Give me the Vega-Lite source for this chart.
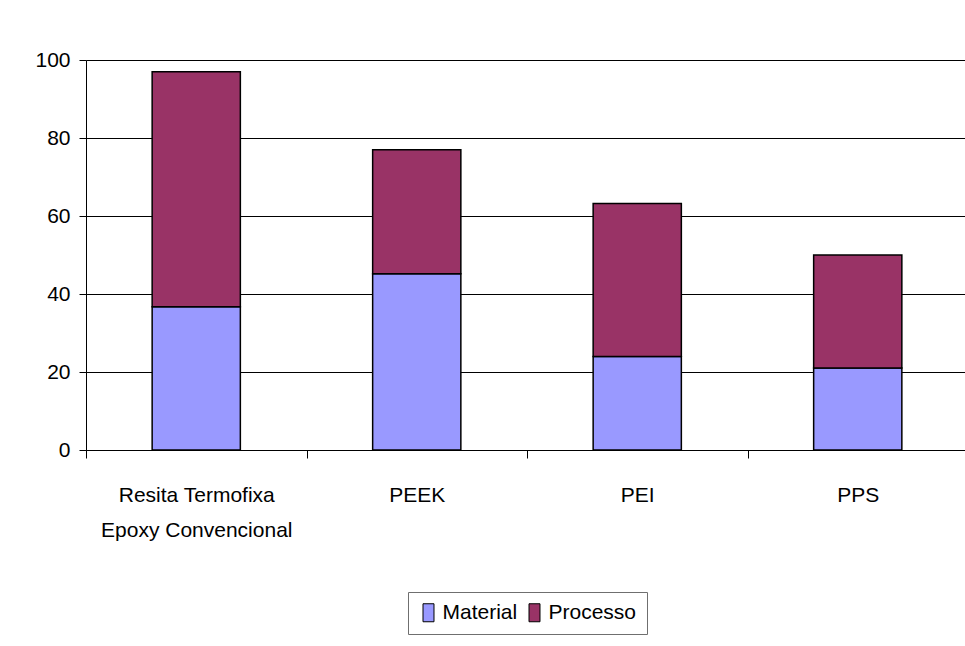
{
  "$schema": "https://vega.github.io/schema/vega-lite/v6.json",
  "autosize": "none",
  "width": 882,
  "height": 390,
  "padding": {"left": 86, "top": 60, "right": 0, "bottom": 196},
  "background": "white",
  "data": {
    "values": [
      {"categoria": "Resita Termofixa Epoxy Convencional", "componente": "Material", "valor": 36.7},
      {"categoria": "Resita Termofixa Epoxy Convencional", "componente": "Processo", "valor": 60.3},
      {"categoria": "PEEK", "componente": "Material", "valor": 45.2},
      {"categoria": "PEEK", "componente": "Processo", "valor": 31.8},
      {"categoria": "PEI", "componente": "Material", "valor": 24},
      {"categoria": "PEI", "componente": "Processo", "valor": 39.2},
      {"categoria": "PPS", "componente": "Material", "valor": 21},
      {"categoria": "PPS", "componente": "Processo", "valor": 29}
    ]
  },
  "mark": {"type": "bar", "stroke": "black", "strokeWidth": 1.5, "width": {"band": 0.4}},
  "encoding": {
    "x": {
      "field": "categoria",
      "type": "nominal",
      "sort": null,
      "scale": {"paddingInner": 0, "paddingOuter": 0},
      "axis": {
        "title": null,
        "labelAngle": 0,
        "tickBand": "extent",
        "tickSize": 8,
        "tickColor": "black",
        "domainColor": "black",
        "labelPadding": 26,
        "labelLimit": 400,
        "labelLineHeight": 35,
        "labelBaseline": "top",
        "labelExpr": "datum.value == 'Resita Termofixa Epoxy Convencional' ? ['Resita Termofixa', 'Epoxy Convencional'] : datum.value"
      }
    },
    "y": {
      "field": "valor",
      "type": "quantitative",
      "stack": "zero",
      "scale": {"domain": [0, 100], "nice": false},
      "axis": {
        "title": null,
        "values": [0, 20, 40, 60, 80, 100],
        "grid": true,
        "gridColor": "black",
        "gridOpacity": 1,
        "tickSize": 7,
        "tickColor": "black",
        "domainColor": "black",
        "labelPadding": 9
      }
    },
    "order": {"field": "componente", "sort": "ascending"},
    "color": {
      "field": "componente",
      "type": "nominal",
      "scale": {"domain": ["Material", "Processo"], "range": ["#9999FF", "#993366"]},
      "legend": {
        "title": null,
        "orient": "bottom",
        "direction": "horizontal",
        "offset": 52,
        "padding": 10,
        "fillColor": "white",
        "strokeColor": "#6f6f6f",
        "symbolType": "M-0.61,-1H0.61V1H-0.61Z",
        "symbolSize": 324,
        "symbolStrokeColor": "black",
        "symbolStrokeWidth": 1,
        "symbolOpacity": 1,
        "labelOffset": 3.5,
        "columnPadding": 6
      }
    }
  },
  "config": {
    "font": "Liberation Sans, Arial, sans-serif",
    "view": {"stroke": null},
    "axis": {
      "labelFont": "Liberation Sans, Arial, sans-serif",
      "labelFontSize": 21,
      "labelColor": "black",
      "domainWidth": 1,
      "tickWidth": 1,
      "gridWidth": 1
    },
    "legend": {
      "labelFont": "Liberation Sans, Arial, sans-serif",
      "labelFontSize": 21,
      "labelColor": "black",
      "layout": {"bottom": {"anchor": "middle"}}
    }
  }
}
